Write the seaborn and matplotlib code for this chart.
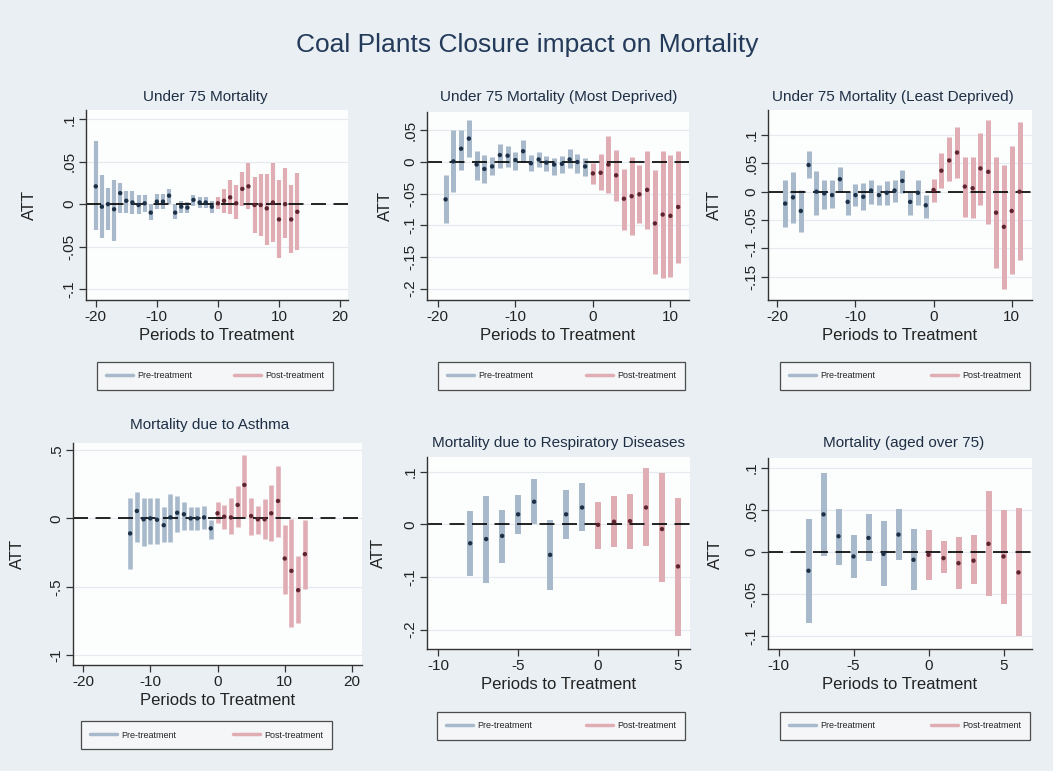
import matplotlib
matplotlib.use("Agg")
import matplotlib.pyplot as plt
from matplotlib.lines import Line2D
import seaborn as sns
import pandas as pd

# ---------------- data ----------------
title_main = "Coal Plants Closure impact on Mortality"

p1_title = "Under 75 Mortality"
p1_x = [-20, -19, -18, -17, -16, -15, -14, -13, -12, -11, -10, -9, -8, -7, -6, -5, -4, -3, -2, -1,
        0, 1, 2, 3, 4, 5, 6, 7, 8, 9, 10, 11, 12, 13]
p1_att = [0.021, -0.003, 0.000, -0.006, 0.013, 0.004, 0.002, -0.001, 0.001, -0.010, 0.003, 0.003, 0.010,
          -0.010, -0.003, -0.004, 0.005, 0.002, 0.002, -0.003,
          0.001, 0.004, 0.008, 0.001, 0.018, 0.021, -0.001, -0.001, -0.005, 0.002, -0.018, 0.000, -0.018, -0.009]
p1_lo = [-0.031, -0.040, -0.030, -0.043, -0.010, -0.011, -0.012, -0.012, -0.009, -0.019, -0.006, -0.006, 0.000,
         -0.018, -0.010, -0.010, -0.002, -0.005, -0.005, -0.010,
         -0.006, -0.010, -0.012, -0.018, -0.002, -0.006, -0.034, -0.038, -0.048, -0.045, -0.064, -0.040, -0.058, -0.054]
p1_hi = [0.074, 0.034, 0.019, 0.029, 0.025, 0.015, 0.015, 0.011, 0.011, 0.000, 0.012, 0.012, 0.018,
         0.000, 0.004, 0.003, 0.011, 0.009, 0.009, 0.004,
         0.008, 0.018, 0.028, 0.022, 0.038, 0.049, 0.032, 0.036, 0.035, 0.049, 0.028, 0.043, 0.022, 0.037]
p1_xticks = [-20, -10, 0, 10, 20]
p1_yticks = [-0.1, -0.05, 0, 0.05, 0.1]
p1_ylabels = ["-.1", "-.05", "0", ".05", ".1"]

p2_title = "Under 75 Mortality (Most Deprived)"
p2_x = [-19, -18, -17, -16, -15, -14, -13, -12, -11, -10, -9, -8, -7, -6, -5, -4, -3, -2, -1,
        0, 1, 2, 3, 4, 5, 6, 7, 8, 9, 10, 11]
p2_att = [-0.059, 0.001, 0.021, 0.037, -0.004, -0.011, -0.007, 0.011, 0.010, 0.003, 0.017, -0.002, 0.004,
          -0.001, -0.004, -0.003, 0.004, 0.000, -0.007,
          -0.018, -0.017, -0.004, -0.021, -0.058, -0.054, -0.051, -0.044, -0.097, -0.083, -0.085, -0.071]
p2_lo = [-0.097, -0.047, -0.013, 0.008, -0.028, -0.033, -0.021, -0.009, -0.008, -0.013, 0.000, -0.014, -0.008,
         -0.014, -0.021, -0.018, -0.009, -0.018, -0.022,
         -0.035, -0.045, -0.049, -0.062, -0.107, -0.116, -0.097, -0.106, -0.177, -0.184, -0.182, -0.159]
p2_hi = [-0.021, 0.051, 0.050, 0.066, 0.017, 0.011, 0.008, 0.029, 0.025, 0.016, 0.035, 0.011, 0.016,
         0.009, 0.007, 0.010, 0.021, 0.013, 0.007,
         -0.002, 0.012, 0.041, 0.019, -0.011, 0.008, -0.005, 0.018, -0.013, 0.018, 0.011, 0.017]
p2_xticks = [-20, -10, 0, 10]
p2_yticks = [-0.2, -0.15, -0.1, -0.05, 0, 0.05]
p2_ylabels = ["-.2", "-.15", "-.1", "-.05", "0", ".05"]

p3_title = "Under 75 Mortality (Least Deprived)"
p3_x = [-19, -18, -17, -16, -15, -14, -13, -12, -11, -10, -9, -8, -7, -6, -5, -4, -3, -2, -1,
        0, 1, 2, 3, 4, 5, 6, 7, 8, 9, 10, 11]
p3_att = [-0.021, -0.010, -0.034, 0.047, 0.000, -0.003, -0.006, 0.022, -0.018, -0.006, -0.009, 0.002, -0.006,
          -0.002, 0.002, 0.019, -0.018, -0.002, -0.024,
          0.003, 0.037, 0.055, 0.069, 0.009, 0.006, 0.041, 0.035, -0.037, -0.062, -0.034, 0.000]
p3_lo = [-0.062, -0.055, -0.071, 0.024, -0.041, -0.031, -0.028, 0.000, -0.041, -0.026, -0.032, -0.021, -0.024,
         -0.024, -0.019, -0.003, -0.041, -0.024, -0.047,
         -0.018, 0.006, 0.018, 0.024, -0.044, -0.047, -0.024, -0.057, -0.135, -0.171, -0.145, -0.121]
p3_hi = [0.021, 0.034, 0.003, 0.071, 0.036, 0.021, 0.021, 0.043, 0.000, 0.014, 0.015, 0.021, 0.012,
         0.018, 0.021, 0.039, 0.000, 0.021, -0.006,
         0.022, 0.068, 0.096, 0.114, 0.061, 0.061, 0.103, 0.126, 0.061, 0.047, 0.081, 0.122]
p3_xticks = [-20, -10, 0, 10]
p3_yticks = [-0.15, -0.1, -0.05, 0, 0.05, 0.1]
p3_ylabels = ["-.15", "-.1", "-.05", "0", ".05", ".1"]

p4_title = "Mortality due to Asthma"
p4_x = [-13, -12, -11, -10, -9, -8, -7, -6, -5, -4, -3, -2, -1,
        0, 1, 2, 3, 4, 5, 6, 7, 8, 9, 10, 11, 12, 13]
p4_att = [-0.110, 0.054, -0.007, 0.000, -0.010, -0.050, 0.007, 0.041, 0.030, 0.000, 0.000, 0.007, -0.073,
          0.037, 0.012, 0.007, 0.098, 0.244, 0.017, -0.007, -0.007, 0.037, 0.127, -0.293, -0.383, -0.524, -0.261]
p4_lo = [-0.366, -0.170, -0.200, -0.190, -0.190, -0.170, -0.170, -0.100, -0.085, -0.085, -0.085, -0.080, -0.154,
         -0.037, -0.080, -0.115, -0.060, 0.007, -0.122, -0.115, -0.154, -0.163, -0.139, -0.549, -0.793, -0.763, -0.512]
p4_hi = [0.146, 0.190, 0.146, 0.150, 0.150, 0.080, 0.180, 0.160, 0.120, 0.085, 0.085, 0.090, -0.012,
         0.120, 0.100, 0.146, 0.237, 0.463, 0.146, 0.090, 0.139, 0.244, 0.383, -0.049, -0.007, -0.276, -0.012]
p4_xticks = [-20, -10, 0, 10, 20]
p4_yticks = [-1, -0.5, 0, 0.5]
p4_ylabels = ["-1", "-.5", "0", ".5"]

p5_title = "Mortality due to Respiratory Diseases"
p5_x = [-8, -7, -6, -5, -4, -3, -2, -1, 0, 1, 2, 3, 4, 5]
p5_att = [-0.036, -0.028, -0.022, 0.019, 0.043, -0.058, 0.019, 0.032, -0.001, 0.005, 0.006, 0.032, -0.009, -0.080]
p5_lo = [-0.099, -0.112, -0.074, -0.018, 0.001, -0.125, -0.028, -0.012, -0.046, -0.044, -0.047, -0.042, -0.110, -0.213]
p5_hi = [0.026, 0.054, 0.028, 0.056, 0.087, 0.008, 0.066, 0.078, 0.043, 0.054, 0.058, 0.108, 0.098, 0.051]
p5_xticks = [-10, -5, 0, 5]
p5_yticks = [-0.2, -0.1, 0, 0.1]
p5_ylabels = ["-.2", "-.1", "0", ".1"]

p6_title = "Mortality (aged over 75)"
p6_x = [-8, -7, -6, -5, -4, -3, -2, -1, 0, 1, 2, 3, 4, 5, 6]
p6_att = [-0.022, 0.045, 0.019, -0.005, 0.017, -0.002, 0.021, -0.009, -0.003, -0.007, -0.013, -0.010, 0.010, -0.005, -0.024]
p6_lo = [-0.084, -0.005, -0.015, -0.031, -0.011, -0.040, -0.009, -0.045, -0.033, -0.025, -0.044, -0.038, -0.052, -0.061, -0.100]
p6_hi = [0.039, 0.094, 0.051, 0.020, 0.045, 0.037, 0.051, 0.028, 0.027, 0.013, 0.018, 0.020, 0.073, 0.050, 0.052]
p6_xticks = [-10, -5, 0, 5]
p6_yticks = [-0.1, -0.05, 0, 0.05, 0.1]
p6_ylabels = ["-.1", "-.05", "0", ".05", ".1"]

legend_labels = ["Pre-treatment", "Post-treatment"]
xlabel = "Periods to Treatment"
ylabel = "ATT"

# ---------------- style ----------------
sns.set_theme(style="white")
plt.rcParams["font.family"] = ["Liberation Sans", "DejaVu Sans"]

BG = "#e9eff2"
PRE_BAR = "#a7b9cb"
POST_BAR = "#e0adb4"
PRE_PT = "#1c3048"
POST_PT = "#5e2430"
TXT = "#1e2e44"

W, H = 1053, 771
fig = plt.figure(figsize=(W / 100, H / 100), dpi=100, facecolor=BG)


def rect(x0, y0, x1, y1):
    return [x0 / W, 1 - y1 / H, (x1 - x0) / W, (y1 - y0) / H]


panels = [
    dict(title=p1_title, x=p1_x, att=p1_att, lo=p1_lo, hi=p1_hi, xt=p1_xticks, yt=p1_yticks, yl=p1_ylabels,
         box=(86, 110, 348, 300), xlim=(-21.6, 21.3), ylim=(-0.113, 0.111), lw=3.0,
         tpos=(205, 97), lpos=(92, 360, 338, 392), ylab=37),
    dict(title=p2_title, x=p2_x, att=p2_att, lo=p2_lo, hi=p2_hi, xt=p2_xticks, yt=p2_yticks, yl=p2_ylabels,
         box=(427, 112, 689, 300), xlim=(-21.4, 12.4), ylim=(-0.218, 0.079), lw=3.6,
         tpos=(559, 97), lpos=(433, 360, 690, 392), ylab=393),
    dict(title=p3_title, x=p3_x, att=p3_att, lo=p3_lo, hi=p3_hi, xt=p3_xticks, yt=p3_yticks, yl=p3_ylabels,
         box=(768, 110, 1032, 300), xlim=(-21.2, 12.6), ylim=(-0.191, 0.144), lw=3.6,
         tpos=(893, 97), lpos=(775, 360, 1035, 392), ylab=722),
    dict(title=p4_title, x=p4_x, att=p4_att, lo=p4_lo, hi=p4_hi, xt=p4_xticks, yt=p4_yticks, yl=p4_ylabels,
         box=(73, 443, 362, 665), xlim=(-21.5, 21.5), ylim=(-1.07, 0.55), lw=3.3,
         tpos=(210, 425), lpos=(76, 718, 337, 752), ylab=25),
    dict(title=p5_title, x=p5_x, att=p5_att, lo=p5_lo, hi=p5_hi, xt=p5_xticks, yt=p5_yticks, yl=p5_ylabels,
         box=(427, 457, 690, 649), xlim=(-10.7, 5.75), ylim=(-0.237, 0.128), lw=4.3,
         tpos=(559, 443), lpos=(432, 710, 690, 742), ylab=386),
    dict(title=p6_title, x=p6_x, att=p6_att, lo=p6_lo, hi=p6_hi, xt=p6_xticks, yt=p6_yticks, yl=p6_ylabels,
         box=(768, 458, 1032, 649), xlim=(-10.7, 6.9), ylim=(-0.115, 0.112), lw=4.3,
         tpos=(904, 443), lpos=(775, 710, 1035, 742), ylab=723),
]

fig.text(527 / W, 1 - 45 / H, title_main, ha="center", va="center", fontsize=19, color="#243a5a")

for p in panels:
    ax = fig.add_axes(rect(*p["box"]))
    ax.set_facecolor("#fcfdfd")
    df = pd.DataFrame({"period": p["x"], "att": p["att"], "lo": p["lo"], "hi": p["hi"]})
    df["phase"] = [legend_labels[0] if v < 0 else legend_labels[1] for v in df["period"]]
    for yv in p["yt"]:
        ax.axhline(yv, color="#e4eaee", lw=0.8, zorder=0)
    pre = df[df["phase"] == legend_labels[0]]
    post = df[df["phase"] == legend_labels[1]]
    ax.vlines(pre["period"], pre["lo"], pre["hi"], color=PRE_BAR, lw=p["lw"], zorder=1)
    ax.vlines(post["period"], post["lo"], post["hi"], color=POST_BAR, lw=p["lw"], zorder=1)
    ax.axhline(0, color="black", lw=1.2, dashes=(9, 4.5), zorder=2)
    sns.scatterplot(data=df, x="period", y="att", hue="phase",
                    palette={legend_labels[0]: PRE_PT, legend_labels[1]: POST_PT},
                    s=10, edgecolor="none", legend=False, ax=ax, zorder=3)
    ax.set_xlim(*p["xlim"])
    ax.set_ylim(*p["ylim"])
    ax.set_xticks(p["xt"])
    ax.set_xticklabels([str(v) for v in p["xt"]])
    ax.set_yticks(p["yt"])
    ax.set_yticklabels(p["yl"], rotation=90, va="center")
    ax.tick_params(axis="both", direction="out", length=5, width=0.9, color="#333333",
                   labelsize=11, labelcolor="#222222", bottom=True, left=True, pad=2)
    for s in ["top", "right"]:
        ax.spines[s].set_visible(False)
    for s in ["left", "bottom"]:
        ax.spines[s].set_color("#333333")
        ax.spines[s].set_linewidth(1.0)
    ax.set_xlabel(xlabel, fontsize=12, color="#222222", labelpad=3)
    ax.set_ylabel(ylabel, fontsize=12, color="#222222")
    x0 = p["box"][0]
    ax.yaxis.set_label_coords((p["ylab"] - x0) / (p["box"][2] - x0), 0.5)
    fig.text(p["tpos"][0] / W, 1 - p["tpos"][1] / H, p["title"], ha="center", va="center",
             fontsize=11, color=TXT)
    lx0, ly0, lx1, ly1 = p["lpos"]
    handles = [Line2D([], [], color=PRE_BAR, lw=2.5), Line2D([], [], color=POST_BAR, lw=2.5)]
    leg = fig.legend(handles, legend_labels, loc="center", ncol=2, mode="expand",
                     bbox_to_anchor=(lx0 / W, 1 - ly1 / H, (lx1 - lx0) / W, (ly1 - ly0) / H),
                     fontsize=6.5, frameon=True, fancybox=False, handlelength=3.0,
                     borderpad=1.0, columnspacing=3.0, handletextpad=0.5)
    leg.get_frame().set_edgecolor("#222222")
    leg.get_frame().set_facecolor("#f7f9fa")
    leg.get_frame().set_linewidth(0.9)

fig.savefig("out.png", dpi=100, facecolor=BG)
